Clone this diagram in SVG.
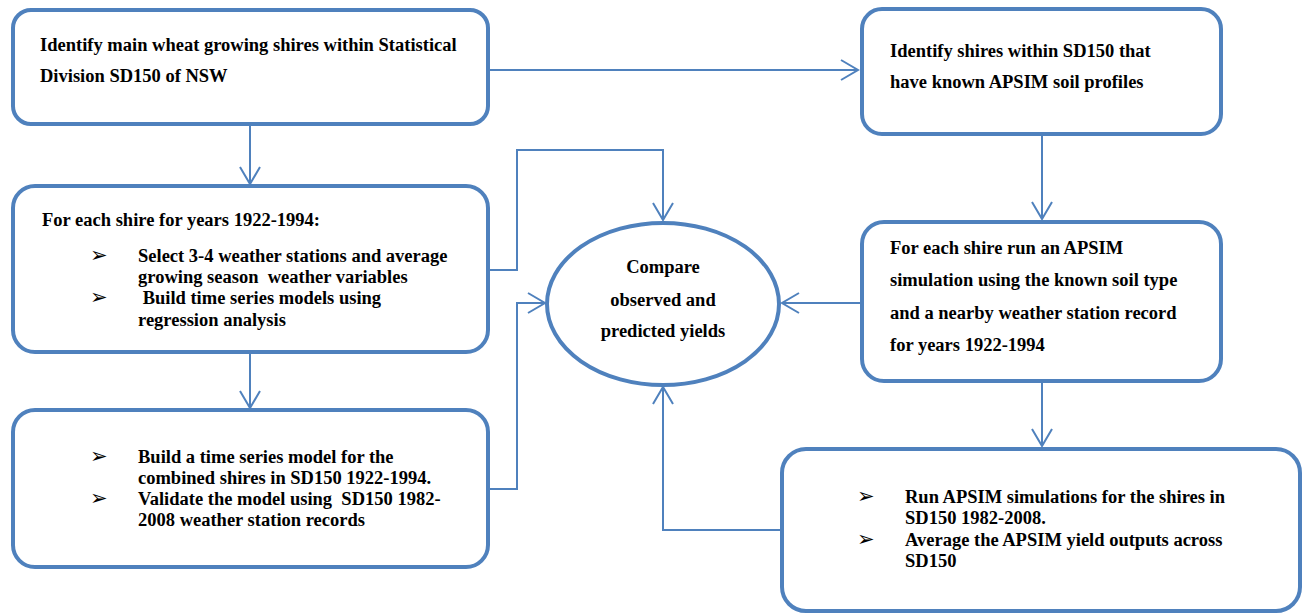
<svg xmlns="http://www.w3.org/2000/svg" width="1308" height="614" viewBox="0 0 1308 614">
<defs>
<style>
.box{fill:#fff;stroke:#4F81BD;stroke-width:4}
.t{font-family:"Liberation Serif","Times New Roman",serif;font-weight:bold;font-size:18.5px;fill:#000}
.b{font-family:"DejaVu Sans",sans-serif;font-size:21px;fill:#000}
.c{fill:none;stroke:#4F81BD;stroke-width:2}
</style>
<marker id="ah" markerWidth="20" markerHeight="24" refX="18" refY="12" orient="auto" markerUnits="userSpaceOnUse">
<path d="M1,2 L18,12 L1,22" fill="none" stroke="#4F81BD" stroke-width="2"/>
</marker>
</defs>
<rect width="1308" height="614" fill="#fff"/>
<g id="connectors">
<path class="c" d="M488,70 H858" marker-end="url(#ah)"/>
<path class="c" d="M250,124 V184" marker-end="url(#ah)"/>
<path class="c" d="M250,352 V408" marker-end="url(#ah)"/>
<path class="c" d="M1042,134 V219" marker-end="url(#ah)"/>
<path class="c" d="M1042,381 V446" marker-end="url(#ah)"/>
<path class="c" d="M488,270 H517 V150 H663 V220" marker-end="url(#ah)"/>
<path class="c" d="M488,489 H517 V303 H545" marker-end="url(#ah)"/>
<path class="c" d="M862,303 H782" marker-end="url(#ah)"/>
<path class="c" d="M782,530 H663 V387" marker-end="url(#ah)"/>
</g>
<g id="n1">
<rect class="box" x="13" y="10" width="475" height="114" rx="18"/>
<text class="t" x="40" y="51">Identify main wheat growing shires within Statistical</text>
<text class="t" x="40" y="82">Division SD150 of NSW</text>
</g>
<g id="n2">
<rect class="box" x="13" y="186" width="475" height="166" rx="22"/>
<text class="t" x="42" y="226">For each shire for years 1922-1994:</text>
<text class="b" x="90" y="262">➢</text>
<text class="t" x="138" y="262">Select 3-4 weather stations and average</text>
<text class="t" x="138" y="283" xml:space="preserve">growing season  weather variables</text>
<text class="b" x="90" y="304">➢</text>
<text class="t" x="138" y="304" xml:space="preserve"> Build time series models using</text>
<text class="t" x="138" y="326">regression analysis</text>
</g>
<g id="n3">
<rect class="box" x="13" y="410" width="475" height="157" rx="22"/>
<text class="b" x="90" y="463">➢</text>
<text class="t" x="138" y="463">Build a time series model for the</text>
<text class="t" x="138" y="484">combined shires in SD150 1922-1994.</text>
<text class="b" x="90" y="505">➢</text>
<text class="t" x="138" y="505" xml:space="preserve">Validate the model using  SD150 1982-</text>
<text class="t" x="138" y="526">2008 weather station records</text>
</g>
<g id="n4">
<rect class="box" x="862" y="9" width="359" height="125" rx="20"/>
<text class="t" x="890" y="57">Identify shires within SD150 that</text>
<text class="t" x="890" y="88">have known APSIM soil profiles</text>
</g>
<g id="n5">
<rect class="box" x="862" y="222" width="359" height="159" rx="22"/>
<text class="t" x="890" y="254">For each shire run an APSIM</text>
<text class="t" x="890" y="286">simulation using the known soil type</text>
<text class="t" x="890" y="319">and a nearby weather station record</text>
<text class="t" x="890" y="351">for years 1922-1994</text>
</g>
<g id="n6">
<rect class="box" x="782" y="449" width="518" height="162" rx="24"/>
<text class="b" x="857" y="503">➢</text>
<text class="t" x="905" y="503">Run APSIM simulations for the shires in</text>
<text class="t" x="905" y="524">SD150 1982-2008.</text>
<text class="b" x="857" y="546">➢</text>
<text class="t" x="905" y="546">Average the APSIM yield outputs across</text>
<text class="t" x="905" y="567">SD150</text>
</g>
<g id="n7">
<ellipse class="box" cx="663" cy="304" rx="116" ry="81"/>
<text class="t" x="663" y="273" text-anchor="middle">Compare</text>
<text class="t" x="663" y="306" text-anchor="middle">observed and</text>
<text class="t" x="663" y="337" text-anchor="middle">predicted yields</text>
</g>
</svg>
